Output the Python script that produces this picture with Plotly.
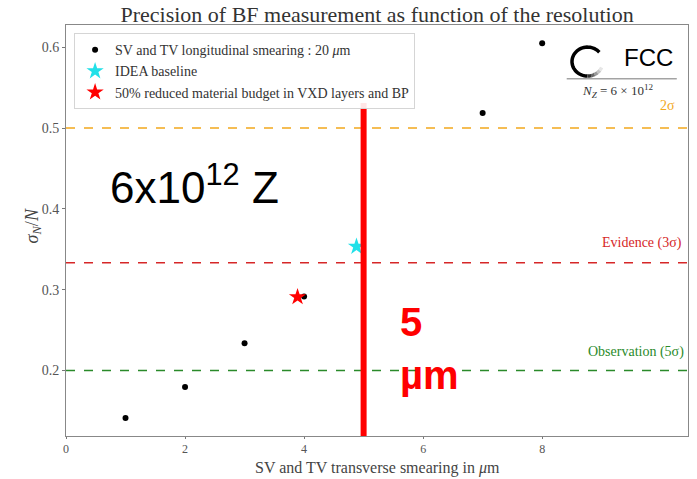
import math
import plotly.graph_objects as go

# Transverse smearing scan (longitudinal smearing fixed at 20 um)
smear_um = [1, 2, 3, 4, 7, 8]
sigma_rel = [0.1413, 0.1795, 0.2338, 0.2917, 0.5186, 0.605]

# Reference detector configurations
idea_x = [4.88]
idea_y = [0.3534]
reduced_x = [3.89]
reduced_y = [0.291]

# Significance thresholds
thresholds = [0.5, 1 / 3, 0.2]
threshold_names = ["2σ", "Evidence (3σ)", "Observation (5σ)"]
threshold_colors = ["#f2a81d", "#d62728", "#2a8a2a"]

serif = "Liberation Serif"
sans = "Liberation Sans"

fig = go.Figure()

fig.add_trace(go.Scatter(
    x=smear_um, y=sigma_rel, mode="markers",
    marker=dict(color="black", size=6),
    name="SV and TV longitudinal smearing : 20 <i>μ</i>m",
))
fig.add_trace(go.Scatter(
    x=idea_x, y=idea_y, mode="markers",
    marker=dict(color="#22e0e8", size=13, symbol="star"),
    name="IDEA baseline",
))
fig.add_trace(go.Scatter(
    x=reduced_x, y=reduced_y, mode="markers",
    marker=dict(color="red", size=13, symbol="star"),
    name="50% reduced material budget in VXD layers and BP",
))

label_offsets = [0.016, 0.012, 0.011]
label_x = [0.983, 0.994, 0.997]
for val, name, col, dy, lx in zip(thresholds, threshold_names, threshold_colors, label_offsets, label_x):
    fig.add_shape(type="line", xref="paper", yref="y", x0=0, x1=1, y0=val, y1=val,
                  line=dict(color=col, width=1.5, dash="dash"), layer="below")
    fig.add_annotation(xref="paper", yref="y", x=lx, y=val + dy, text=name,
                       showarrow=False, xanchor="right", yanchor="bottom",
                       font=dict(family=serif, size=14, color=col))

# Highlighted 5 um resolution
fig.add_shape(type="line", xref="x", yref="y", x0=5, x1=5, y0=0.119, y1=0.531,
              line=dict(color="red", width=6))
fig.add_annotation(xref="x", yref="y", x=5.57, y=0.26, text="<b>5</b>",
                   showarrow=False, xanchor="left", yanchor="middle",
                   font=dict(family=sans, size=40, color="red"))
fig.add_annotation(xref="x", yref="y", x=5.57, y=0.194, text="<b>µm</b>",
                   showarrow=False, xanchor="left", yanchor="middle",
                   font=dict(family=sans, size=40, color="red"))

fig.add_annotation(xref="x", yref="y", x=0.7, y=0.43, text="6x10<sup>12</sup> Z",
                   showarrow=False, xanchor="left", yanchor="middle",
                   font=dict(family=sans, size=44, color="black"))

# FCC logo block: open ring fading out at its lower end
cx, cy, rx, ry = 0.8384, 0.911, 0.0249, 0.0352
def ring_path(a0, a1, n=24):
    pts = []
    for i in range(n + 1):
        a = math.radians(a0 + (a1 - a0) * i / n)
        pts.append((cx + rx * math.cos(a), cy + ry * math.sin(a)))
    return "M " + " L ".join(f"{x:.5f},{y:.5f}" for x, y in pts)

fig.add_shape(type="path", xref="paper", yref="paper", path=ring_path(40, 270, 40),
              line=dict(color="black", width=3.5))
fade = ["#333333", "#666666", "#999999", "#c4c4c4", "#e6e6e6"]
for k, col in enumerate(fade):
    fig.add_shape(type="path", xref="paper", yref="paper",
                  path=ring_path(270 + k * 13, 270 + (k + 1) * 13 + 1, 4),
                  line=dict(color=col, width=3.5))
fig.add_annotation(xref="paper", yref="paper", x=0.894, y=0.921, text="FCC",
                   showarrow=False, xanchor="left", yanchor="middle",
                   font=dict(family=sans, size=24, color="black"))
fig.add_shape(type="line", xref="paper", yref="paper", x0=0.805, x1=0.982, y0=0.869, y1=0.869,
              line=dict(color="#777777", width=1))
fig.add_annotation(xref="paper", yref="paper", x=0.887, y=0.84,
                   text="<i>N<sub>Z</sub></i> = 6 × 10<sup>12</sup>",
                   showarrow=False, xanchor="center", yanchor="middle",
                   font=dict(family=serif, size=13, color="#333333"))

# Axis titles
fig.add_annotation(xref="paper", yref="paper", x=-0.053, y=0.51,
                   text="<i>σ<sub>N</sub></i>/<i>N</i>", textangle=-90,
                   showarrow=False, xanchor="center", yanchor="middle",
                   font=dict(family=serif, size=18, color="#444444"))
fig.add_annotation(xref="paper", yref="paper", x=0.5, y=-0.078,
                   text="SV and TV transverse smearing in <i>μ</i>m",
                   showarrow=False, xanchor="center", yanchor="middle",
                   font=dict(family=serif, size=16, color="#444444"))

fig.update_layout(
    width=697, height=479,
    margin=dict(l=66, r=9, t=25, b=43),
    paper_bgcolor="white", plot_bgcolor="white",
    title=dict(text="Precision of BF measurement as function of the resolution",
               x=0.541, xanchor="center", y=0.971, yanchor="middle",
               font=dict(family=serif, size=22, color="#333333")),
    font=dict(family=serif, color="#444444"),
    legend=dict(x=0.013, y=0.98, xanchor="left", yanchor="top",
                bordercolor="#d5d5d5", borderwidth=1, bgcolor="rgba(255,255,255,0.9)",
                font=dict(family=serif, size=14, color="#333333"),
                itemsizing="trace", tracegroupgap=0),
    showlegend=True,
)
fig.update_xaxes(range=[0, 10.45], tickvals=[0, 2, 4, 6, 8], ticks="outside", ticklen=2,
                 tickcolor="#777777", showgrid=False, zeroline=False, automargin=False,
                 showline=True, linecolor="#888888", linewidth=1, mirror=True,
                 tickfont=dict(family=serif, size=12, color="#555555"))
fig.update_yaxes(range=[0.119, 0.6275], tickvals=[0.2, 0.3, 0.4, 0.5, 0.6],
                 ticktext=["0.2", "0.3", "0.4", "0.5", "0.6"], ticks="outside", ticklen=3,
                 tickcolor="#777777", showgrid=False, zeroline=False, automargin=False,
                 showline=True, linecolor="#888888", linewidth=1, mirror=True,
                 tickfont=dict(family=serif, size=14, color="#555555"))

fig.write_html("out.html")
